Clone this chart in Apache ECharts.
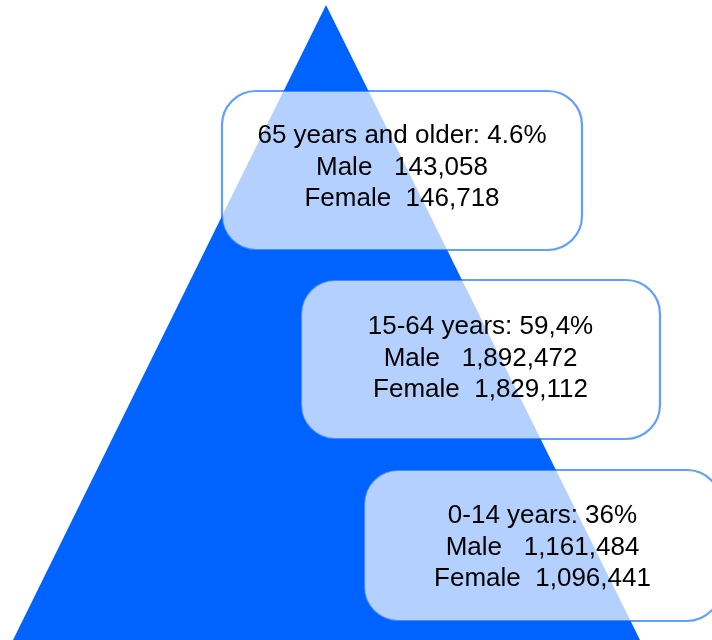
<!DOCTYPE html>
<html>
<head>
<meta charset="utf-8">
<script src="https://cdn.jsdelivr.net/npm/echarts@6/dist/echarts.min.js"></script>
<style>
html,body{margin:0;padding:0;background:#fff;}
#main{width:712px;height:640px;}
</style>
</head>
<body>
<div id="main"></div>
<script>
// ---- data ----
const ageGroups = ['65 years and older', '15-64 years', '0-14 years'];
const shares = ['4.6%', '59,4%', '36%'];
const maleCounts = [143058, 1892472, 1161484];
const femaleCounts = [146718, 1829112, 1096441];

// ---- layout (in axis units of a 712 x 640 plane) ----
const pyramid = [[326, 5], [13, 640], [640, 640]];
const boxLayout = [
  { x: 222, y: 91, w: 360, h: 159, dy: -3 },
  { x: 301, y: 280, w: 359, h: 159, dy: -1 },
  { x: 364, y: 470, w: 357, h: 151, dy: 2 }
];

function fmt(n) { return n.toLocaleString('en-US'); }

const boxData = ageGroups.map((g, i) => [i]);

const chart = echarts.init(document.getElementById('main'), null, { renderer: 'canvas' });
chart.setOption({
  animation: false,
  grid: { left: 0, right: 0, top: 0, bottom: 0 },
  xAxis: { type: 'value', min: 0, max: 712, show: false },
  yAxis: { type: 'value', min: 0, max: 640, inverse: true, show: false },
  series: [
    {
      type: 'custom',
      data: [[0]],
      renderItem: function (params, api) {
        const pts = pyramid.map(p => api.coord(p));
        return { type: 'polygon', shape: { points: pts }, style: { fill: '#0062ff' } };
      },
      silent: true
    },
    {
      type: 'custom',
      data: boxData,
      renderItem: function (params, api) {
        const i = params.dataIndex;
        const b = boxLayout[i];
        const p0 = api.coord([b.x, b.y]);
        const p1 = api.coord([b.x + b.w, b.y + b.h]);
        const cx = (p0[0] + p1[0]) / 2;
        const cy = (p0[1] + p1[1]) / 2 + b.dy;
        const text = ageGroups[i] + ': ' + shares[i] + '\nMale   ' + fmt(maleCounts[i]) + '\nFemale  ' + fmt(femaleCounts[i]);
        return {
          type: 'group',
          children: [
            {
              type: 'rect',
              shape: { x: p0[0], y: p0[1], width: p1[0] - p0[0], height: p1[1] - p0[1], r: 34 },
              style: { fill: 'rgba(255,255,255,0.7)', stroke: 'rgba(0,98,255,0.62)', lineWidth: 2.2 }
            },
            {
              type: 'text',
              style: {
                text: text, x: cx, y: cy, align: 'center', verticalAlign: 'middle',
                font: '26px "Liberation Sans", Arial, sans-serif', lineHeight: 31.5, fill: '#000'
              }
            }
          ]
        };
      },
      silent: true
    }
  ]
});
</script>
</body>
</html>
